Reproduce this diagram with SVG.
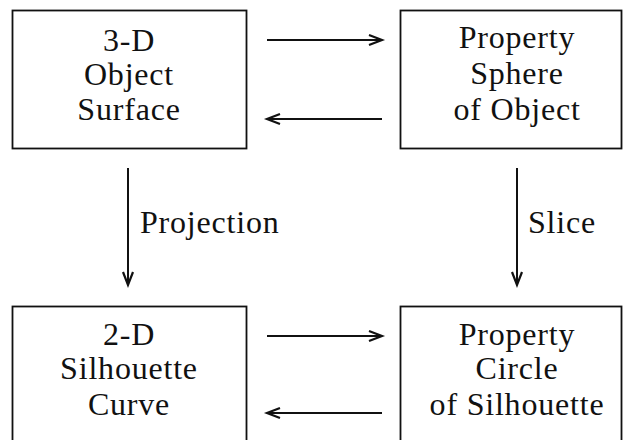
<svg xmlns="http://www.w3.org/2000/svg" width="624" height="440" viewBox="0 0 624 440">
<style>
.box{fill:#fff;stroke:#111;stroke-width:1.8}
.t{font-family:"Liberation Serif",serif;font-size:32px;fill:#111;text-anchor:middle;letter-spacing:0.8px}
.l{font-family:"Liberation Serif",serif;font-size:32px;fill:#111;letter-spacing:0.8px}
.c{fill:none;stroke:#111;stroke-width:2}
.h{fill:none;stroke:#111;stroke-width:2.2;stroke-linejoin:miter}
</style>
<rect width="624" height="440" fill="#fff"/>
<g id="node-3d">
<rect class="box" x="12.5" y="10.5" width="234" height="138"/>
<text class="t" x="129" y="51">3-D</text>
<text class="t" x="129" y="85">Object</text>
<text class="t" x="129" y="120">Surface</text>
</g>
<g id="node-sphere">
<rect class="box" x="400.5" y="10.5" width="221" height="138"/>
<text class="t" x="517" y="48">Property</text>
<text class="t" x="517" y="84">Sphere</text>
<text class="t" x="517" y="120">of Object</text>
</g>
<g id="node-2d">
<rect class="box" x="12.5" y="306.5" width="234" height="140"/>
<text class="t" x="129" y="345">2-D</text>
<text class="t" x="129" y="379">Silhouette</text>
<text class="t" x="129" y="415">Curve</text>
</g>
<g id="node-circle">
<rect class="box" x="400.5" y="306.5" width="221" height="140"/>
<text class="t" x="517" y="345">Property</text>
<text class="t" x="517" y="379">Circle</text>
<text class="t" x="517" y="415">of Silhouette</text>
</g>
<g id="connectors">
<path class="c" d="M267 40H381"/>
<path class="h" d="M369 35L382 40L369 45"/>
<path class="c" d="M268 119H382"/>
<path class="h" d="M280 114L267 119L280 124"/>
<path class="c" d="M267 336H381"/>
<path class="h" d="M369 331L382 336L369 341"/>
<path class="c" d="M268 413H382"/>
<path class="h" d="M280 408L267 413L280 418"/>
<path class="c" d="M128 168V284"/>
<path class="h" d="M123 272L128 285L133 272"/>
<text class="l" x="140" y="233">Projection</text>
<path class="c" d="M517 168V284"/>
<path class="h" d="M512 272L517 285L522 272"/>
<text class="l" x="528" y="233">Slice</text>
</g>
</svg>
